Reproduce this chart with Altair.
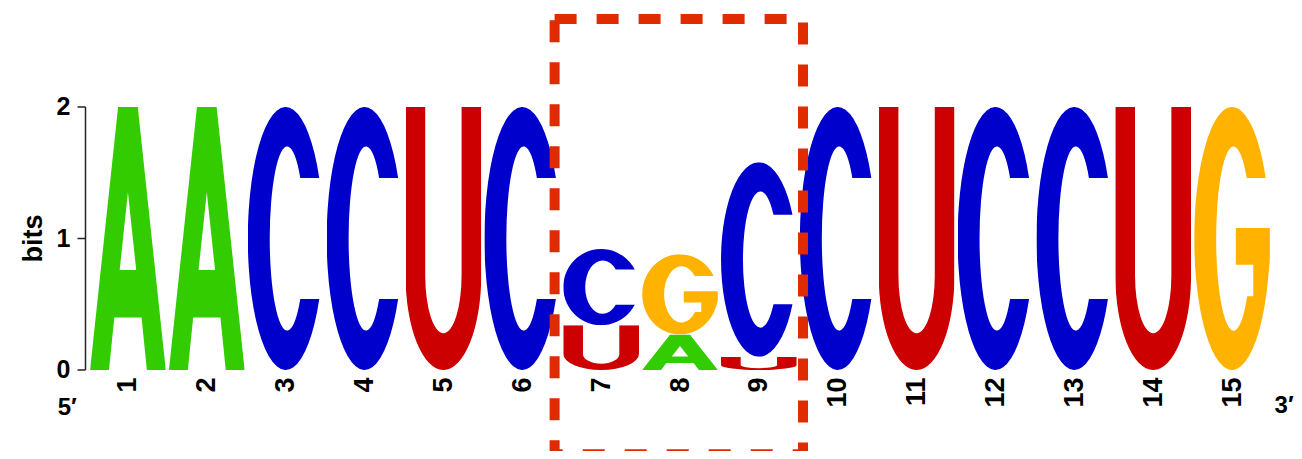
import base64
import altair as alt
import pandas as pd

# ---- data ----
positions = list(range(1, 16))
bits_A = [2.00, 2.00, 0, 0, 0, 0, 0, 0.27, 0, 0, 0, 0, 0, 0, 0]
bits_C = [0, 0, 2.00, 2.00, 0, 2.00, 0.58, 0, 1.48, 2.00, 0, 2.00, 2.00, 0, 0]
bits_G = [0, 0, 0, 0, 0, 0, 0, 0.61, 0, 0, 0, 0, 0, 0, 2.00]
bits_U = [0, 0, 0, 0, 2.00, 0, 0.34, 0, 0.10, 0, 2.00, 0, 0, 2.00, 0]
y_ticks = [0, 1, 2]
y_title = "bits"
end_labels = ["5′", "3′"]
end_label_pos = [0.23, 15.66]
end_label_bits = [-0.34, -0.33]
box_pos = [6.41, 9.56]
box_bits = [-0.64, 2.67]

# ---- styling ----
colors = {"A": "#33cc00", "C": "#0000cc", "G": "#ffb300", "U": "#cc0000"}
glyphs = {
    "A": "M0,100 L37,0 L63,0 L100,100 L75,100 L68,80 L32,80 L25,100 Z "
         "M39.1,62 L60.9,62 L50,32.4 Z",
    "C": "M94.4,27 A50,50 0 1 0 94.4,73 L69.3,73 A23,35 0 1 1 69.3,27 Z",
    "G": "M94.4,27 A50,50 0 1 0 97.7,65 L100,58 L100,46 L55,46 L55,60 "
         "L78,60 L78,72 L69.9,72 A23,35 0 1 1 69.3,27 Z",
    "U": "M0,0 L26,0 L26,64 A24,22 0 0 0 74,64 L74,0 L100,0 L100,64 "
         "A50,36 0 0 1 0,64 Z",
}
axis_color = "#222"


def glyph_url(letter):
    svg = ('<svg xmlns="http://www.w3.org/2000/svg" width="100" height="100" '
           'viewBox="0 0 100 100" preserveAspectRatio="none">'
           f'<path d="{glyphs[letter]}" fill="{colors[letter]}" fill-rule="evenodd"/></svg>')
    return "data:image/svg+xml;base64," + base64.b64encode(svg.encode()).decode()


half = 0.48
rows = []
for i, p in enumerate(positions):
    stack = [(l, h) for l, h in (("A", bits_A[i]), ("C", bits_C[i]),
                                  ("G", bits_G[i]), ("U", bits_U[i])) if h > 0]
    stack.sort(key=lambda t: t[1])
    base = 0.0
    for l, h in stack:
        rows.append({"pos": p, "letter": l, "x0": p - half, "x1": p + half,
                     "y0": base, "y1": base + h, "url": glyph_url(l)})
        base += h
letters = pd.DataFrame(rows)

xscale = alt.Scale(domain=[0.5, 15.5], nice=False, zero=False)
yscale = alt.Scale(domain=[0, 2], nice=False, zero=False)

logo = alt.Chart(letters).mark_image(aspect=False).encode(
    x=alt.X("x0:Q", scale=xscale,
            axis=alt.Axis(values=positions, labelAngle=-90, labelAlign="right",
                          labelBaseline="middle", labelFontSize=27,
                          labelFontWeight="bold", labelColor="black",
                          labelPadding=7, domain=False, ticks=False, grid=False,
                          title=None, format="d", labelFlush=False,
                          labelOverlap=False)),
    x2="x1:Q",
    y=alt.Y("y0:Q", scale=yscale, axis=None),
    y2="y1:Q",
    url="url:N",
)

# the highlight box (same field names so scales merge cleanly)
box_df = pd.DataFrame({"x0": [box_pos[0]], "x1": [box_pos[1]],
                       "y0": [box_bits[0]], "y1": [box_bits[1]]})
box = alt.Chart(box_df).mark_rect(
    filled=False, stroke="#e02a00", strokeWidth=10, strokeDash=[22, 20]
).encode(x="x0:Q", x2="x1:Q", y=alt.Y("y0:Q", axis=None), y2="y1:Q")

ends_df = pd.DataFrame({"label": end_labels, "x0": end_label_pos,
                        "y0": end_label_bits})
ends = alt.Chart(ends_df).mark_text(
    fontSize=24, fontWeight="bold", color="black", baseline="alphabetic",
    align="center"
).encode(x="x0:Q", y=alt.Y("y0:Q", axis=None), text="label:N")

# y axis drawn from the tick values
ticks_df = pd.DataFrame({"y0": y_ticks, "lab": [str(t) for t in y_ticks]})
span_df = pd.DataFrame({"y0": [min(y_ticks)], "y1": [max(y_ticks)]})
title_df = pd.DataFrame({"y0": [(min(y_ticks) + max(y_ticks)) / 2],
                         "lab": [y_title]})

y_domain = alt.Chart(span_df).mark_rule(
    color=axis_color, strokeWidth=1.5
).encode(x=alt.value(-3), y=alt.Y("y0:Q", axis=None), y2="y1:Q")
y_tickmarks = alt.Chart(ticks_df).mark_rule(
    color=axis_color, strokeWidth=1.5
).encode(x=alt.value(-11), x2=alt.value(-3), y=alt.Y("y0:Q", axis=None))
y_labels = alt.Chart(ticks_df).mark_text(
    align="right", baseline="middle", fontSize=25, fontWeight="bold",
    color="black"
).encode(x=alt.value(-18), y=alt.Y("y0:Q", axis=None), text="lab:N")
y_titletext = alt.Chart(title_df).mark_text(
    angle=270, align="center", baseline="middle", fontSize=27,
    fontWeight="bold", color="black"
).encode(x=alt.value(-55), y=alt.Y("y0:Q", axis=None), text="lab:N")

chart = alt.layer(logo, box, ends, y_domain, y_tickmarks, y_labels,
                  y_titletext).properties(
    width=1183, height=263,
    autosize=alt.AutoSizeParams(type="none"),
    padding={"left": 80.5, "top": 99, "right": 22, "bottom": 81},
).configure(font="Liberation Sans").configure_view(
    stroke="transparent", strokeWidth=0).configure_axis(grid=False)

chart.save("out.html", embed_options={"renderer": "svg", "actions": False})
